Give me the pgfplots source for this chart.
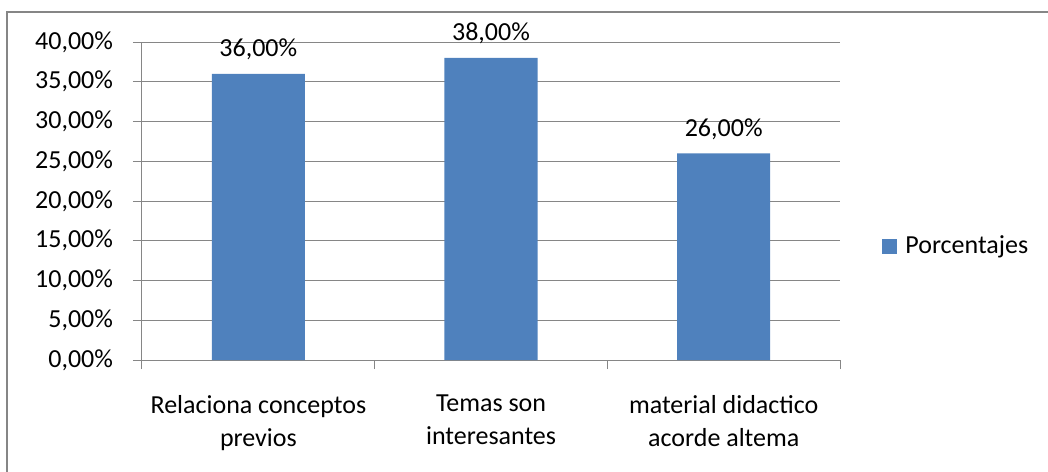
\documentclass[border=0pt]{standalone}
\usepackage{pgfplots}
\pgfplotsset{compat=1.18}
\usepackage{fontspec}
\setmainfont{Carlito}
\definecolor{barblue}{HTML}{4F81BD}
\definecolor{axgray}{HTML}{868686}
\begin{document}
\begin{tikzpicture}[x=1pt,y=1pt,font=\fontsize{13}{16}\selectfont]
\useasboundingbox (-71,-55.5) rectangle (453,180);
\draw[axgray, line width=1pt] (-67.5,-60) -- (-67.5,174) -- (460,174);
\begin{axis}[
  at={(0,0)}, anchor=south west,
  scale only axis, width=349pt, height=159pt,
  xmin=0.5, xmax=3.5, ymin=0, ymax=40,
  axis x line*=bottom, axis y line*=left,
  axis line style={axgray, line width=0.5pt},
  ymajorgrids, grid style={axgray, line width=0.5pt},
  ytick={0,5,10,15,20,25,30,35,40},
  yticklabels={{0,00\%},{5,00\%},{10,00\%},{15,00\%},{20,00\%},{25,00\%},{30,00\%},{35,00\%},{40,00\%}},
  xtick={0.5,1.5,2.5,3.5},
  xticklabels={{Relaciona conceptos\\previos},{Temas son\\interesantes},{material didactico\\acorde altema},{}},
  xticklabel style={align=center, xshift=58.2pt, yshift=-9.5pt, font=\fontsize{13}{16.5}\selectfont},
  yticklabel style={xshift=-6.5pt, font=\fontsize{13}{16}\selectfont},
  tick align=outside, major tick length=4.5pt,
  tick style={axgray, line width=0.5pt},
  ybar, bar width=0.4,
  /pgf/number format/assume math mode=true,
  nodes near coords={\pgfmathprintnumber[fixed,fixed zerofill,precision=2,use comma]{\pgfplotspointmeta}\%},
  nodes near coords style={anchor=base, yshift=8.5pt, font=\fontsize{13}{16}\selectfont, text=black},
  legend style={draw=none, at={(1,0.358)}, anchor=west, xshift=21pt, inner sep=0pt, font=\fontsize{13}{16}\selectfont, legend cell align=left, nodes={inner xsep=4pt}},
  legend image code/.code={\fill[#1] (0pt,-3.75pt) rectangle (7.5pt,3.75pt);},
]
\addplot[fill=barblue, draw=none] coordinates {(1,36) (2,38) (3,26)};
\addlegendentry{Porcentajes}
\end{axis}
\end{tikzpicture}
\end{document}
